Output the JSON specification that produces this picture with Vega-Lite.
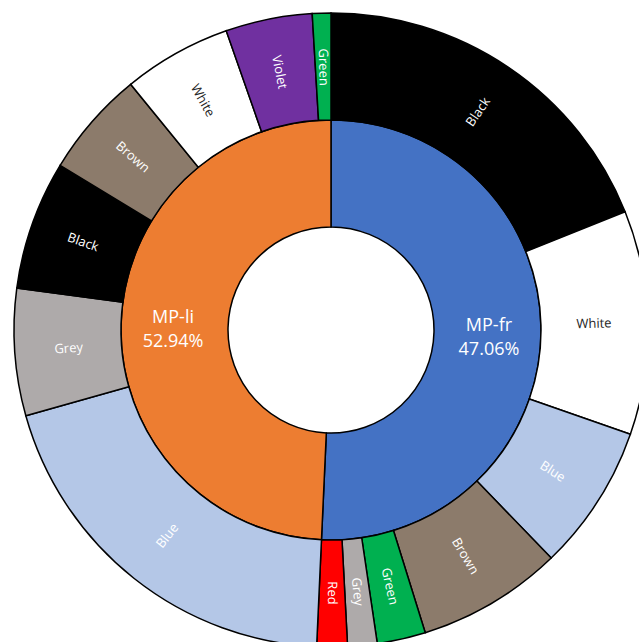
{
  "$schema": "https://vega.github.io/schema/vega-lite/v6.json",
  "width": 616,
  "height": 624,
  "padding": {"left": 23, "top": 18, "right": 0, "bottom": 0},
  "autosize": {"type": "none"},
  "background": "white",
  "config": {"view": {"stroke": null}},
  "datasets": {
    "inner": [
      {"parent": "MP-fr", "idx": 1, "value": 182.6, "label": "MP-fr\n47.06%"},
      {"parent": "MP-li", "idx": 2, "value": 177.4, "label": "MP-li\n52.94%"}
    ],
    "outer": [
      {"parent": "MP-fr", "idx": 1, "name": "Black", "value": 68.1},
      {"parent": "MP-fr", "idx": 2, "name": "White", "value": 41.1},
      {"parent": "MP-fr", "idx": 3, "name": "Blue", "value": 26.8},
      {"parent": "MP-fr", "idx": 4, "name": "Brown", "value": 26.7},
      {"parent": "MP-fr", "idx": 5, "name": "Green", "value": 8.9},
      {"parent": "MP-fr", "idx": 6, "name": "Grey", "value": 5.4},
      {"parent": "MP-fr", "idx": 7, "name": "Red", "value": 5.6},
      {"parent": "MP-li", "idx": 8, "name": "Blue", "value": 71.7},
      {"parent": "MP-li", "idx": 9, "name": "Grey", "value": 23.3},
      {"parent": "MP-li", "idx": 10, "name": "Black", "value": 23.7},
      {"parent": "MP-li", "idx": 11, "name": "Brown", "value": 19.5},
      {"parent": "MP-li", "idx": 12, "name": "White", "value": 19.9},
      {"parent": "MP-li", "idx": 13, "name": "Violet", "value": 15.9},
      {"parent": "MP-li", "idx": 14, "name": "Green", "value": 3.4}
    ]
  },
  "resolve": {"scale": {"theta": "independent"}},
  "layer": [
    {
      "data": {"name": "inner"},
      "mark": {"type": "arc", "innerRadius": 103, "outerRadius": 210, "stroke": "black", "strokeWidth": 1.5},
      "encoding": {
        "theta": {"field": "value", "type": "quantitative", "stack": true},
        "order": {"field": "idx", "type": "quantitative"},
        "color": {
          "field": "parent", "type": "nominal", "legend": null,
          "scale": {"domain": ["MP-fr", "MP-li"], "range": ["#4472C4", "#ED7D31"]}
        }
      }
    },
    {
      "data": {"name": "inner"},
      "mark": {"type": "text", "radius": 158, "fontSize": 18, "font": "Open Sans", "fill": "white", "lineBreak": "\n", "lineHeight": 24, "align": "center", "baseline": "middle", "dy": -8},
      "encoding": {
        "theta": {"field": "value", "type": "quantitative", "stack": true},
        "order": {"field": "idx", "type": "quantitative"},
        "text": {"field": "label"}
      }
    },
    {
      "data": {"name": "outer"},
      "mark": {"type": "arc", "innerRadius": 210, "outerRadius": 317, "stroke": "black", "strokeWidth": 1.5},
      "encoding": {
        "theta": {"field": "value", "type": "quantitative", "stack": true},
        "order": {"field": "idx", "type": "quantitative"},
        "fill": {
          "field": "name", "type": "nominal", "legend": null,
          "scale": {
            "domain": ["Black", "White", "Blue", "Brown", "Green", "Grey", "Red", "Violet"],
            "range": ["#000000", "#FFFFFF", "#B4C7E7", "#8C7B6B", "#00B050", "#AEAAAA", "#FF0000", "#7030A0"]
          }
        }
      }
    },
    {
      "data": {"name": "outer"},
      "transform": [
        {"window": [{"op": "sum", "field": "value", "as": "cum"}], "sort": [{"field": "idx"}], "frame": [null, 0]},
        {"joinaggregate": [{"op": "sum", "field": "value", "as": "total"}]},
        {"calculate": "(datum.cum - datum.value / 2) / datum.total * 360", "as": "mid"},
        {"calculate": "datum.mid < 180 ? datum.mid - 90 : datum.mid - 270", "as": "rot"}
      ],
      "mark": {"type": "text", "radius": 263, "fontSize": 13, "font": "Open Sans", "align": "center", "baseline": "middle"},
      "encoding": {
        "theta": {"field": "value", "type": "quantitative", "stack": true},
        "order": {"field": "idx", "type": "quantitative"},
        "text": {"field": "name"},
        "angle": {"field": "rot", "type": "quantitative", "scale": null},
        "color": {
          "condition": {"test": "datum.name === 'White'", "value": "#262626"},
          "value": "#FFFFFF"
        }
      }
    }
  ]
}
